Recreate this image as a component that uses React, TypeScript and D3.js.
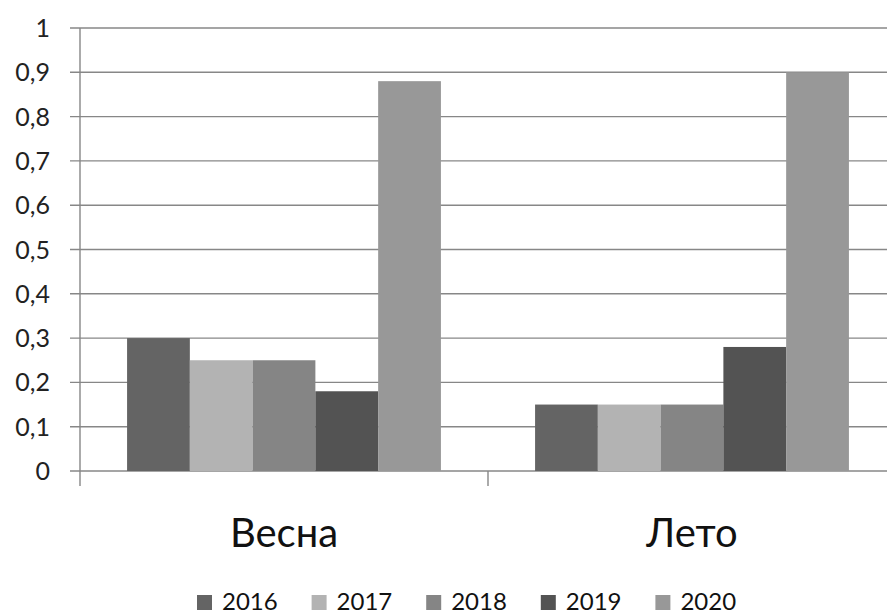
import React from "react";
import * as d3 from "d3";

const categories = ["Весна", "Лето"];
const seriesNames = ["2016", "2017", "2018", "2019", "2020"];
const seriesValues: number[][] = [
  [0.3, 0.15],
  [0.25, 0.15],
  [0.25, 0.15],
  [0.18, 0.28],
  [0.88, 0.9],
];
const seriesColors = ["#646464", "#b3b3b3", "#858585", "#535353", "#989898"];
const yTicks = [0, 0.1, 0.2, 0.3, 0.4, 0.5, 0.6, 0.7, 0.8, 0.9, 1];
const yTickLabels = ["0", "0,1", "0,2", "0,3", "0,4", "0,5", "0,6", "0,7", "0,8", "0,9", "1"];

const W = 887;
const H = 615;
const left = 80;
const catW = 408;
const top = 28;
const bottom = 471;
const font = "Lato, 'Open Sans', sans-serif";

export default function App() {
  const x0 = d3
    .scaleBand<string>()
    .domain(categories)
    .range([left, left + catW * categories.length])
    .paddingInner(0)
    .paddingOuter(0);
  const bw = x0.bandwidth() / (seriesNames.length + 1.5);
  const x1 = d3
    .scaleBand<string>()
    .domain(seriesNames)
    .range([bw * 0.75, bw * 0.75 + bw * seriesNames.length])
    .padding(0);
  const y = d3.scaleLinear().domain([0, 1]).range([bottom, top]);
  const gridColor = "#878787";

  const legendStart = 197;
  const legendStep = 114.6;

  return (
    <svg
      width={W}
      height={H}
      style={{ position: "absolute", left: 0, top: 0, background: "#fff" }}
      fontFamily={font}
    >
      <rect x={0} y={0} width={W} height={H} fill="#fff" />
      {yTicks.map((t, i) => (
        <g key={t}>
          <line x1={left - 10} x2={W} y1={y(t)} y2={y(t)} stroke={gridColor} strokeWidth={1.4} />
          <text
            x={50}
            y={y(t)}
            dy="0.36em"
            textAnchor="end"
            fontSize={25}
            fill="#222"
          >
            {yTickLabels[i]}
          </text>
        </g>
      ))}
      <line x1={left} x2={left} y1={top} y2={bottom + 15} stroke={gridColor} strokeWidth={1.4} />
      {categories.map((c) => (
        <line
          key={"t" + c}
          x1={(x0(c) as number) + catW}
          x2={(x0(c) as number) + catW}
          y1={bottom}
          y2={bottom + 15}
          stroke={gridColor}
          strokeWidth={1.4}
        />
      ))}
      {seriesNames.map((s, si) =>
        categories.map((c, ci) => {
          const v = seriesValues[si][ci];
          const bx = (x0(c) as number) + (x1(s) as number);
          return (
            <rect
              key={s + c}
              x={bx}
              y={y(v)}
              width={x1.bandwidth()}
              height={y(0) - y(v)}
              fill={seriesColors[si]}
            />
          );
        })
      )}
      {categories.map((c) => (
        <text
          key={"l" + c}
          x={(x0(c) as number) + catW / 2}
          y={547}
          textAnchor="middle"
          fontSize={40}
          fill="#111"
        >
          {c}
        </text>
      ))}
      {seriesNames.map((s, si) => {
        const lx = legendStart + si * legendStep;
        return (
          <g key={"lg" + s}>
            <rect x={lx} y={595} width={15} height={15} fill={seriesColors[si]} />
            <text x={lx + 25} y={610} fontSize={24} fill="#111">
              {s}
            </text>
          </g>
        );
      })}
    </svg>
  );
}
